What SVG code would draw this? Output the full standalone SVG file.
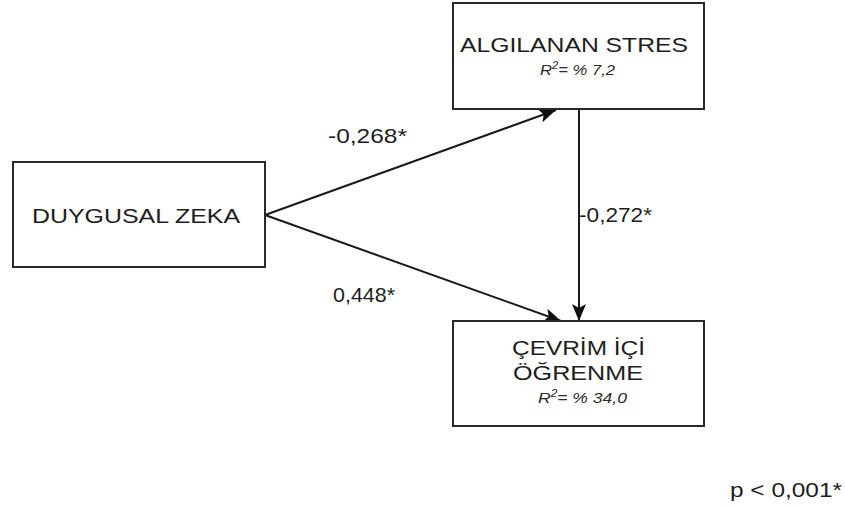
<svg xmlns="http://www.w3.org/2000/svg" width="845" height="508" viewBox="0 0 845 508">
<style>
.box{fill:#fff;stroke:#2a2a2a;stroke-width:2}
.t{font-family:"Liberation Sans",Arial,sans-serif;font-size:21px;fill:#1e1e1e}
.r{font-family:"Liberation Sans",Arial,sans-serif;font-size:15px;font-style:italic;fill:#2a2a2a}
.c{stroke:#1a1a1a;stroke-width:2;fill:none;marker-end:url(#ah)}
</style>
<defs>
<marker id="ah" markerUnits="userSpaceOnUse" markerWidth="20" markerHeight="14" refX="17" refY="7" orient="auto">
<path d="M0,0 L17,7 L0,14 L4,7 Z" fill="#111"/>
</marker>
</defs>
<rect width="845" height="508" fill="#fff"/>
<g id="connectors">
<line class="c" x1="265" y1="215" x2="556" y2="110"/>
<line class="c" x1="265" y1="215" x2="561" y2="321"/>
<line class="c" x1="579" y1="109" x2="579" y2="321"/>
</g>
<g id="node-algilanan">
<rect class="box" x="453" y="3" width="251" height="106"/>
<text class="t" x="460" y="52" textLength="228" lengthAdjust="spacingAndGlyphs">ALGILANAN STRES</text>
<text class="r" x="540" y="75" textLength="75" lengthAdjust="spacingAndGlyphs">R<tspan dy="-6" font-size="10">2</tspan><tspan dy="6">= % 7,2</tspan></text>
</g>
<g id="node-duygusal">
<rect class="box" x="13" y="162" width="252" height="105"/>
<text class="t" x="32" y="223" textLength="208" lengthAdjust="spacingAndGlyphs">DUYGUSAL ZEKA</text>
</g>
<g id="node-cevrimici">
<rect class="box" x="453" y="321" width="251" height="105"/>
<text class="t" x="512" y="355" textLength="133" lengthAdjust="spacingAndGlyphs">ÇEVRİM İÇİ</text>
<text class="t" x="513" y="380" textLength="130" lengthAdjust="spacingAndGlyphs">ÖĞRENME</text>
<text class="r" x="538" y="403" textLength="89" lengthAdjust="spacingAndGlyphs">R<tspan dy="-6" font-size="10">2</tspan><tspan dy="6">= % 34,0</tspan></text>
</g>
<g id="labels">
<text class="t" x="328" y="143" textLength="79" lengthAdjust="spacingAndGlyphs">-0,268*</text>
<text class="t" x="333" y="302" textLength="62" lengthAdjust="spacingAndGlyphs">0,448*</text>
<text class="t" x="579" y="222" textLength="73" lengthAdjust="spacingAndGlyphs">-0,272*</text>
<text class="t" x="730" y="497" textLength="112" lengthAdjust="spacingAndGlyphs">p &lt; 0,001*</text>
</g>
</svg>
